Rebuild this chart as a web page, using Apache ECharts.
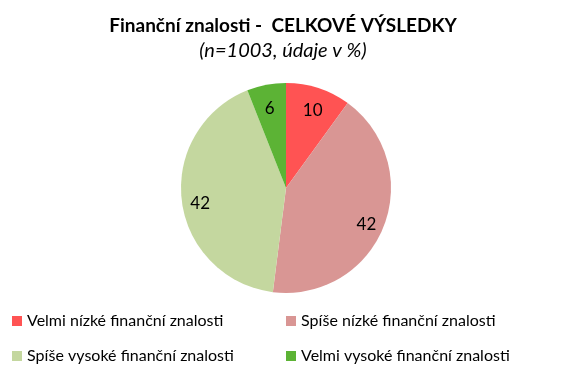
<!DOCTYPE html>
<html><head><meta charset="utf-8">
<script src="https://cdn.jsdelivr.net/npm/echarts@6/dist/echarts.min.js"></script>
<style>html,body{margin:0;padding:0;background:#fff}#c{width:566px;height:384px}</style>
</head><body><div id="c"></div>
<script>
const categories = ['Velmi nízké finanční znalosti','Spíše nízké finanční znalosti','Spíše vysoké finanční znalosti','Velmi vysoké finanční znalosti'];
const values = [10, 42, 42, 6];
const colors = ['#FF5353','#D99694','#C4D79F','#5CB335'];
const titleText = 'Finanční znalosti -  CELKOVÉ VÝSLEDKY';
const subtitleText = '(n=1003, údaje v %)';

const FONT = 'Lato';
const data = categories.map((n,i)=>({name:n, value:values[i], itemStyle:{color:colors[i]}}));
const chart = echarts.init(document.getElementById('c'));
chart.setOption({
  backgroundColor:'#fff',
  animation:false,
  title:{
    text:titleText, subtext:subtitleText, left:'center', top:16, itemGap:6, padding:0,
    textStyle:{fontFamily:FONT,fontWeight:'bold',fontSize:19,color:'#000'},
    subtextStyle:{fontFamily:FONT,fontStyle:'italic',fontSize:20,color:'#000'}
  },
  legend:[
    {data:[categories[0],categories[2]], orient:'vertical', left:12, top:313, padding:0, itemWidth:10, itemHeight:10, itemGap:19,
     icon:'rect', textStyle:{fontFamily:FONT,fontSize:16,color:'#000'}, selectedMode:false},
    {data:[categories[1],categories[3]], orient:'vertical', left:286, top:313, padding:0, itemWidth:10, itemHeight:10, itemGap:19,
     icon:'rect', textStyle:{fontFamily:FONT,fontSize:16,color:'#000'}, selectedMode:false}
  ],
  series:[
    {type:'pie', center:[286,188], radius:[0,105], startAngle:90, clockwise:true,
     data:data, label:{show:false}, labelLine:{show:false}, silent:true},
    {type:'pie', center:[286,188], radius:[62,105], startAngle:90, clockwise:true,
     data:data.map(d=>({name:d.name,value:d.value})), itemStyle:{color:'rgba(0,0,0,0)'}, silent:true,
     label:{show:true, position:'inside', formatter:'{c}', fontFamily:FONT, fontSize:17, color:'#000', offset:[0,5]},
     labelLine:{show:false}, legendHoverLink:false}
  ]
});
</script></body></html>
